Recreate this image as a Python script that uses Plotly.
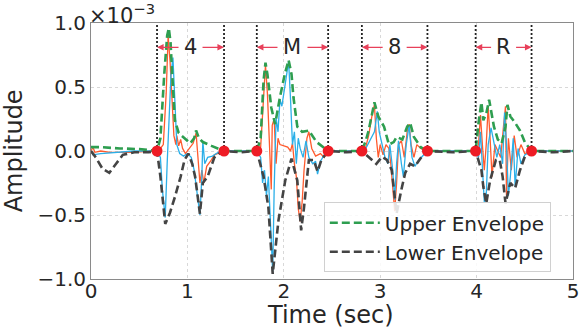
import plotly.graph_objects as go

# ---------------- data (values in units of 1e-3) ----------------
orange_t = [0.00, 0.02, 0.04, 0.10, 0.20, 0.30, 0.45, 0.60, 0.685, 0.72, 0.75, 0.78, 0.80, 0.82, 0.84, 0.86,
            0.88, 0.89, 0.91, 0.93, 0.95, 0.98, 1.02, 1.06, 1.09, 1.11, 1.13, 1.15, 1.17, 1.20, 1.24, 1.28,
            1.38, 1.55, 1.72, 1.76, 1.79, 1.81, 1.83, 1.85, 1.87, 1.88, 1.90, 1.92, 1.94, 1.96, 2.00, 2.04,
            2.07, 2.09, 2.11, 2.13, 2.15, 2.17, 2.19, 2.21, 2.24, 2.26, 2.29, 2.33, 2.38, 2.42, 2.46, 2.65,
            2.81, 2.85, 2.88, 2.92, 2.94, 2.96, 2.98, 3.00, 3.03, 3.06, 3.09, 3.11, 3.13, 3.15, 3.17, 3.19,
            3.22, 3.25, 3.28, 3.30, 3.32, 3.35, 3.38, 3.42, 3.49, 3.75, 3.99, 4.02, 4.04, 4.06, 4.08, 4.10,
            4.12, 4.14, 4.16, 4.19, 4.22, 4.25, 4.28, 4.30, 4.31, 4.33, 4.36, 4.39, 4.42, 4.46, 4.50, 4.57,
            4.80, 5.00]
orange_v = [0.00, 0.03, -0.01, 0.00, -0.01, -0.01, -0.01, 0.00, 0.00, 0.02, 0.05, 0.45, 0.90, 0.70, 0.35, 0.12,
            0.05, 0.12, 0.04, 0.09, 0.02, -0.02, 0.02, 0.06, 0.14, -0.05, -0.25, -0.15, -0.25, -0.12, -0.08, -0.03,
            0.00, 0.00, 0.00, 0.03, 0.45, 0.67, 0.45, 0.10, -0.30, 0.20, 0.25, -0.10, 0.10, 0.05, 0.04, 0.03,
            0.00, 0.06, -0.10, -0.20, -0.45, -0.55, -0.40, -0.15, 0.10, 0.15, 0.02, -0.04, -0.02, -0.05, 0.00, 0.00,
            0.00, 0.03, 0.12, 0.30, 0.36, 0.10, -0.05, 0.05, -0.03, 0.05, 0.02, -0.10, -0.30, -0.47, -0.25, 0.05,
            0.08, -0.05, 0.15, 0.21, 0.05, -0.05, 0.05, 0.02, 0.00, 0.00, 0.00, 0.05, 0.28, 0.05, -0.15, 0.05,
            0.35, 0.10, -0.20, 0.05, 0.00, -0.05, 0.20, 0.35, -0.35, 0.10, -0.15, 0.12, -0.05, 0.05, -0.02, 0.00,
            0.00, 0.00]

blue_t = [0.00, 0.02, 0.10, 0.25, 0.45, 0.685, 0.72, 0.74, 0.77, 0.79, 0.81, 0.83, 0.85, 0.87, 0.89, 0.92,
          0.96, 1.00, 1.04, 1.07, 1.10, 1.13, 1.15, 1.16, 1.18, 1.21, 1.26, 1.32, 1.38, 1.72, 1.76, 1.78,
          1.80, 1.82, 1.84, 1.86, 1.885, 1.90, 1.92, 1.94, 1.96, 1.98, 2.01, 2.05, 2.07, 2.09, 2.11, 2.13,
          2.15, 2.17, 2.20, 2.23, 2.26, 2.30, 2.33, 2.35, 2.38, 2.42, 2.46, 2.81, 2.85, 2.88, 2.91, 2.94,
          2.97, 2.99, 3.02, 3.05, 3.08, 3.10, 3.13, 3.15, 3.17, 3.19, 3.22, 3.24, 3.27, 3.30, 3.33, 3.36,
          3.40, 3.45, 3.49, 3.99, 4.02, 4.04, 4.06, 4.08, 4.10, 4.12, 4.15, 4.18, 4.21, 4.24, 4.27, 4.29,
          4.31, 4.33, 4.35, 4.38, 4.40, 4.43, 4.46, 4.50, 4.57, 5.00]
blue_v = [0.00, -0.03, -0.02, -0.01, 0.00, 0.00, -0.05, -0.30, -0.52, -0.10, 0.30, 0.60, 0.73, 0.40, 0.05, -0.02,
          -0.04, -0.02, -0.05, -0.15, -0.35, -0.50, -0.20, 0.08, -0.10, -0.05, -0.04, -0.01, 0.00, 0.00, -0.05, -0.25,
          -0.15, -0.35, -0.20, -0.60, -0.95, -0.30, 0.26, 0.15, 0.40, 0.35, 0.50, 0.70, 0.40, 0.05, 0.15, -0.10,
          0.10, 0.02, -0.05, 0.08, -0.05, -0.10, -0.08, -0.18, -0.08, -0.03, 0.00, 0.00, 0.02, 0.06, 0.10, 0.15,
          0.31, 0.15, 0.05, -0.05, -0.10, 0.05, -0.15, -0.38, -0.10, 0.08, -0.10, -0.20, 0.05, 0.20, -0.05, -0.12,
          -0.07, -0.03, 0.00, 0.00, -0.05, 0.15, -0.10, -0.40, -0.35, 0.05, 0.18, 0.05, -0.05, 0.05, -0.10, 0.30,
          0.05, -0.35, -0.20, 0.10, -0.28, 0.02, -0.10, -0.03, 0.00, 0.00]

upper_t = [0.00, 0.10, 0.30, 0.50, 0.685, 0.72, 0.76, 0.79, 0.807, 0.825, 0.84, 0.87, 0.91, 0.955, 1.03, 1.07,
           1.09, 1.12, 1.16, 1.25, 1.38, 1.55, 1.72, 1.76, 1.79, 1.81, 1.83, 1.87, 1.91, 1.96, 2.01, 2.05,
           2.08, 2.10, 2.14, 2.19, 2.26, 2.34, 2.46, 2.65, 2.81, 2.85, 2.88, 2.94, 2.98, 3.04, 3.09, 3.14,
           3.17, 3.23, 3.28, 3.31, 3.35, 3.42, 3.49, 3.75, 3.99, 4.02, 4.05, 4.07, 4.10, 4.13, 4.18, 4.22,
           4.26, 4.30, 4.32, 4.35, 4.40, 4.45, 4.50, 4.57, 4.80, 5.00]
upper_v = [0.03, 0.03, 0.02, 0.015, 0.00, 0.10, 0.60, 0.90, 0.96, 0.85, 0.63, 0.24, 0.14, 0.11, 0.06, 0.10,
           0.16, 0.10, 0.07, 0.04, 0.00, 0.00, 0.00, 0.10, 0.55, 0.69, 0.60, 0.34, 0.21, 0.42, 0.60, 0.71,
           0.60, 0.42, 0.19, 0.15, 0.16, 0.07, 0.00, 0.00, 0.00, 0.08, 0.16, 0.38, 0.27, 0.19, 0.05, 0.07,
           0.11, 0.09, 0.19, 0.22, 0.11, 0.03, 0.00, 0.00, 0.00, 0.22, 0.38, 0.24, 0.29, 0.40, 0.19, 0.09,
           0.06, 0.19, 0.36, 0.27, 0.22, 0.16, 0.07, 0.00, 0.00, 0.00]

lower_t = [0.00, 0.05, 0.12, 0.19, 0.26, 0.33, 0.45, 0.60, 0.685, 0.72, 0.77, 0.82, 0.87, 0.93, 0.97, 1.01,
           1.05, 1.08, 1.13, 1.16, 1.21, 1.28, 1.33, 1.38, 1.55, 1.72, 1.79, 1.84, 1.885, 1.945, 2.015, 2.08,
           2.14, 2.18, 2.21, 2.26, 2.31, 2.35, 2.39, 2.46, 2.65, 2.81, 2.90, 2.96, 3.02, 3.07, 3.12, 3.17,
           3.22, 3.26, 3.31, 3.36, 3.43, 3.49, 3.75, 3.99, 4.05, 4.07, 4.10, 4.14, 4.20, 4.24, 4.27, 4.30,
           4.35, 4.40, 4.45, 4.50, 4.57, 4.80, 5.00]
lower_v = [0.00, -0.05, -0.14, -0.17, -0.10, -0.03, -0.01, -0.01, 0.00, -0.20, -0.57, -0.48, -0.36, -0.20, -0.07, -0.02,
           -0.10, -0.20, -0.49, -0.25, -0.20, -0.05, -0.02, 0.00, -0.01, 0.00, -0.20, -0.44, -0.96, -0.54, -0.23, -0.06,
           -0.23, -0.62, -0.44, -0.07, -0.07, -0.16, -0.07, 0.00, -0.01, 0.00, -0.06, -0.10, -0.045, -0.07, -0.15, -0.49,
           -0.30, -0.17, -0.10, -0.12, -0.045, 0.00, -0.01, 0.00, -0.15, -0.28, -0.41, -0.23, -0.07, -0.07, -0.20, -0.41,
           -0.25, -0.29, -0.15, -0.045, 0.00, -0.01, 0.00]

boundaries = [0.685, 1.38, 1.72, 2.46, 2.81, 3.49, 3.99, 4.57]
seg_labels = ["4", "M", "8", "R"]
label_level = 0.81

x_ticks = [0, 1, 2, 3, 4, 5]
y_ticks = [-1.0, -0.5, 0.0, 0.5, 1.0]
y_tick_text = ["\u22121.0", "\u22120.5", "0.0", "0.5", "1.0"]

# ---------------- figure ----------------
FONT = "DejaVu Sans"
TXT = "#262626"
ORANGE = "#FF5B2E"
BLUE = "#2BAFE8"
GREEN = "#2E9E50"
DARK = "#444444"
RED = "#EE1C25"
ARROW = "#E8405A"
ENV_DASH = "8px,4px"

fig = go.Figure()

fig.add_trace(go.Scatter(x=orange_t, y=orange_v, mode="lines",
                         line=dict(color=ORANGE, width=1.3), showlegend=False))
fig.add_trace(go.Scatter(x=blue_t, y=blue_v, mode="lines",
                         line=dict(color=BLUE, width=1.3), showlegend=False))
fig.add_trace(go.Scatter(x=upper_t, y=upper_v, mode="lines", name="Upper Envelope",
                         line=dict(color=GREEN, width=2.6, dash=ENV_DASH)))
fig.add_trace(go.Scatter(x=lower_t, y=lower_v, mode="lines", name="Lower Envelope",
                         line=dict(color=DARK, width=2.6, dash=ENV_DASH)))

# vertical dotted boundary lines
vx, vy = [], []
for b in boundaries:
    vx += [b, b, None]
    vy += [0.0, 1.0, None]
fig.add_trace(go.Scatter(x=vx, y=vy, mode="lines", line=dict(color="#222222", width=1.8, dash="2px,2px"),
                         showlegend=False, hoverinfo="skip"))

# red boundary markers
fig.add_trace(go.Scatter(x=boundaries, y=[0.0] * len(boundaries), mode="markers",
                         marker=dict(color=RED, size=11), showlegend=False, cliponaxis=False))

# segment labels with arrows
px_per_sec = 482 / 5.0
half_w = {"4": 6.5, "M": 9.5, "8": 6.5, "R": 7.0}
annotations = []
for i, lab in enumerate(seg_labels):
    a, b = boundaries[2 * i], boundaries[2 * i + 1]
    c = (a + b) / 2
    off = (half_w[lab] + 4) / px_per_sec
    annotations.append(dict(x=c, y=label_level, text=lab, showarrow=False,
                            font=dict(family=FONT, size=21, color=TXT), xref="x", yref="y"))
    for head, tail in ((a, c - off), (b, c + off)):
        annotations.append(dict(x=head, y=label_level, ax=tail, ay=label_level, xref="x", yref="y",
                                axref="x", ayref="y", text="", showarrow=True, arrowhead=2,
                                arrowsize=1.1, arrowwidth=1.2, arrowcolor=ARROW, standoff=0, startstandoff=0))

annotations.append(dict(x=0, y=1, xref="paper", yref="paper", xanchor="left", yanchor="bottom",
                        text="\u00d710<sup>\u22123</sup>", showarrow=False, yshift=-7, xshift=-4,
                        font=dict(family=FONT, size=21, color=TXT)))
# axis titles
annotations.append(dict(x=-0.159, y=0.5, xref="paper", yref="paper", xanchor="center", yanchor="middle",
                        text="Amplitude", textangle=-90, showarrow=False,
                        font=dict(family=FONT, size=24, color=TXT)))
annotations.append(dict(x=0.497, y=-0.142, xref="paper", yref="paper", xanchor="center", yanchor="middle",
                        text="Time (sec)", showarrow=False,
                        font=dict(family=FONT, size=24, color=TXT)))

fig.update_layout(
    width=582, height=328,
    margin=dict(l=91, r=9, t=23, b=49),
    paper_bgcolor="white", plot_bgcolor="white",
    font=dict(family=FONT, color=TXT, size=20),
    annotations=annotations,
    legend=dict(x=0.483, y=0.30, xanchor="left", yanchor="top", itemwidth=50,
                bgcolor="rgba(255,255,255,0.85)", bordercolor="#d0d0d0", borderwidth=1,
                font=dict(family=FONT, size=20, color=TXT)),
)

fig.update_xaxes(range=[0, 5], tickvals=x_ticks, ticktext=[str(t) for t in x_ticks],
                 showgrid=True, gridcolor="#d8d8d8", griddash="dot", gridwidth=1,
                 showline=True, linecolor="#8a8a8a", linewidth=1, mirror=True,
                 zeroline=False, ticks="", tickfont=dict(size=20, color=TXT),
                 ticklabelstandoff=-6, automargin=False)
fig.update_yaxes(range=[-1.0, 1.0], tickvals=y_ticks, ticktext=y_tick_text,
                 showgrid=True, gridcolor="#d8d8d8", griddash="dot", gridwidth=1,
                 showline=True, linecolor="#8a8a8a", linewidth=1, mirror=True,
                 zeroline=False, ticks="", tickfont=dict(size=20, color=TXT),
                 automargin=False)

fig.write_html("out.html", config={"displayModeBar": False},
               post_script="document.body.style.margin='0';document.body.style.overflow='hidden';")
